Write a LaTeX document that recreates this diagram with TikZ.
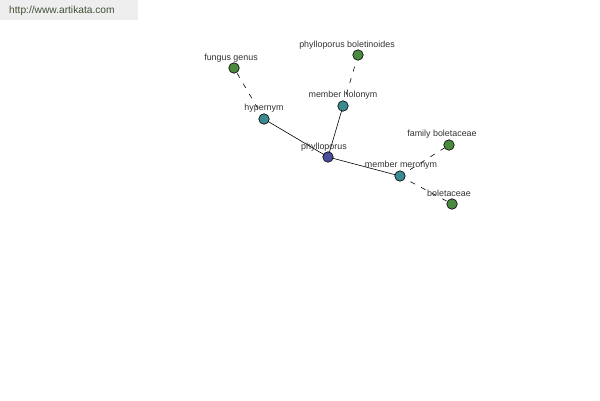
\documentclass[tikz,border=0pt]{standalone}
\usepackage{fontspec}
\setmainfont{Liberation Sans}
\definecolor{hubc}{HTML}{4A4F9A}
\definecolor{relc}{HTML}{3A8A8F}
\definecolor{leafc}{HTML}{4A8A3F}
\definecolor{hdrbg}{HTML}{EEEEEE}
\definecolor{hdrtx}{HTML}{3F5035}
\definecolor{lbl}{HTML}{333333}
\begin{document}
\begin{tikzpicture}[x=1pt,y=-1pt,
  dot/.style={circle,draw=black,line width=0.6pt,minimum size=10.5pt,inner sep=0pt},
  hub/.style={dot,fill=hubc},
  rel/.style={dot,fill=relc},
  leaf/.style={dot,fill=leafc},
  lab/.style={font=\fontsize{8.9}{10}\selectfont,text=lbl,inner sep=0pt},
  solidedge/.style={draw=black,line width=0.6pt},
  dashedge/.style={draw=black,line width=0.6pt,dash pattern=on 5pt off 7pt}]
\useasboundingbox (0,0) rectangle (600,400);
\fill[white] (0,0) rectangle (600,400);
\node[fill=hdrbg,minimum width=138pt,minimum height=20pt,anchor=north west,inner sep=0pt] (hdr) at (0,0) {};
\node[anchor=west,font=\fontsize{10.2}{12}\selectfont,text=hdrtx,inner sep=0pt] (hdrt) at (9,11) {http://www.artikata.com};
% edges first
\coordinate (cP) at (328,157);
\coordinate (cH) at (264,119);
\coordinate (cMH) at (343,106);
\coordinate (cMM) at (400,176);
\coordinate (cFG) at (234,68);
\coordinate (cPB) at (358,55);
\coordinate (cFB) at (449,145);
\coordinate (cB) at (452,204);
\draw[solidedge] (cP) -- (cH);
\draw[solidedge] (cP) -- (cMH);
\draw[solidedge] (cP) -- (cMM);
\draw[dashedge] (cH) -- (cFG);
\draw[dashedge] (cMH) -- (cPB);
\draw[dashedge] (cMM) -- (cFB);
\draw[dashedge] (cMM) -- (cB);
% labels
\node[lab] (lP) at (324,147.5) {phylloporus};
\node[lab] (lH) at (264,108.5) {hypernym};
\node[lab] (lMH) at (343,95.5) {member holonym};
\node[lab] (lMM) at (401,165.5) {member meronym};
\node[lab] (lFG) at (231,58.5) {fungus genus};
\node[lab] (lPB) at (347,45.5) {phylloporus boletinoides};
\node[lab] (lFB) at (442,134.5) {family boletaceae};
\node[lab] (lB) at (449,193.5) {boletaceae};
% nodes
\node[hub] (P) at (cP) {};
\node[rel] (H) at (cH) {};
\node[rel] (MH) at (cMH) {};
\node[rel] (MM) at (cMM) {};
\node[leaf] (FG) at (cFG) {};
\node[leaf] (PB) at (cPB) {};
\node[leaf] (FB) at (cFB) {};
\node[leaf] (B) at (cB) {};
\end{tikzpicture}
\end{document}
